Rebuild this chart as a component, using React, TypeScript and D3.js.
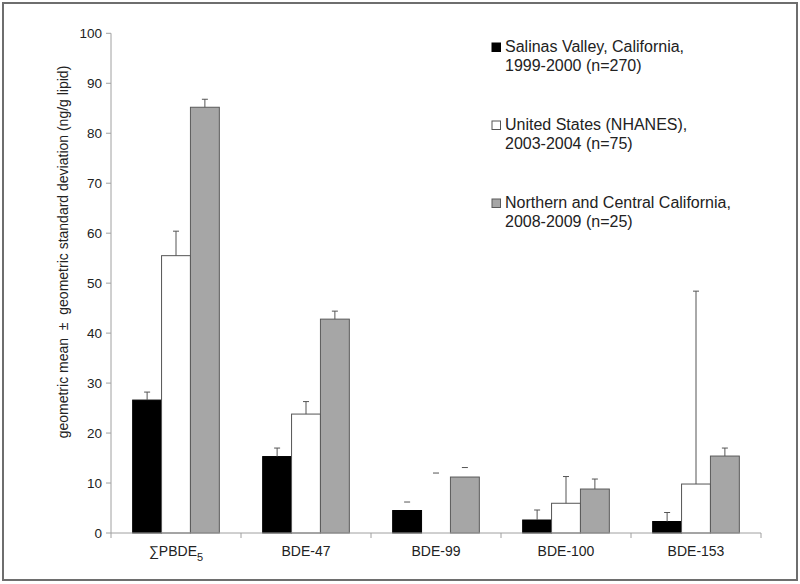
import React from "react";
import * as d3 from "d3";

const categories = ["SUM", "BDE-47", "BDE-99", "BDE-100", "BDE-153"];
const seriesNames = [
  ["Salinas Valley, California,", "1999-2000 (n=270)"],
  ["United States (NHANES),", "2003-2004 (n=75)"],
  ["Northern and Central California,", "2008-2009 (n=25)"],
];
const salinas = [26.6, 15.3, 4.5, 2.6, 2.3];
const nhanes: (number | null)[] = [55.5, 23.8, null, 5.95, 9.8];
const norcal = [85.2, 42.8, 11.2, 8.8, 15.4];
const salinasErr = [28.2, 17.0, 6.2, 4.6, 4.1];
const nhanesErr = [60.4, 26.3, 12.0, 11.3, 48.4];
const norcalErr = [86.8, 44.4, 13.1, 10.8, 17.0];
const capOnlyCategories = ["BDE-99"];
const yTicks = [0, 10, 20, 30, 40, 50, 60, 70, 80, 90, 100];

const fills = ["#000000", "#ffffff", "#a6a6a6"];
const strokes = ["#000000", "#555555", "#5a5a5a"];

export default function App() {
  const W = 800, H = 584;
  const left = 111, right = 761, top = 33.3, bottom = 533;
  const y = d3.scaleLinear().domain([0, 100]).range([bottom, top]);
  const x = d3.scaleBand<string>().domain(categories).range([left, right]).padding(0);
  const inner = d3
    .scaleBand<number>()
    .domain([0, 1, 2])
    .range([0, x.bandwidth()])
    .paddingInner(0)
    .paddingOuter(0.75);
  const values = [salinas, nhanes, norcal];
  const errs = [salinasErr, nhanesErr, norcalErr];
  const font = "'Liberation Sans', Arial, sans-serif";
  const axisColor = "#a0a0a0";
  const boundaries = [...categories.map((c) => x(c) as number), right];

  return (
    <svg width={W} height={H} style={{ position: "absolute", left: 0, top: 0, background: "#fff" }} fontFamily={font}>
      <rect x={0} y={0} width={W} height={H} fill="#fff" />
      <rect x={3} y={3} width={794} height={577} fill="none" stroke="#6e6e6e" strokeWidth={2} />
      {/* y axis */}
      <line x1={left} x2={left} y1={top} y2={bottom} stroke={axisColor} />
      {yTicks.map((t) => (
        <g key={t}>
          <line x1={left - 5} x2={left} y1={y(t)} y2={y(t)} stroke={axisColor} />
          <text x={102} y={y(t)} dy="0.35em" textAnchor="end" fontSize={13.5} fill="#222">
            {t}
          </text>
        </g>
      ))}
      {/* bars */}
      {values.map((vals, si) =>
        categories.map((c, ci) => {
          const v = vals[ci];
          if (v == null) return null;
          const bx = (x(c) as number) + (inner(si) as number);
          return (
            <rect
              key={`b${si}-${ci}`}
              x={bx}
              y={y(v)}
              width={inner.bandwidth()}
              height={y(0) - y(v)}
              fill={fills[si]}
              stroke={strokes[si]}
              strokeWidth={1}
            />
          );
        })
      )}
      {/* error bars */}
      {errs.map((es, si) =>
        categories.map((c, ci) => {
          const e = es[ci];
          const v = values[si][ci];
          const cx = (x(c) as number) + (inner(si) as number) + inner.bandwidth() / 2;
          const capOnly = capOnlyCategories.includes(c);
          return (
            <g key={`e${si}-${ci}`} stroke="#555" strokeWidth={1}>
              {!capOnly && v != null && <line x1={cx} x2={cx} y1={y(v)} y2={y(e)} />}
              <line x1={cx - 3} x2={cx + 3} y1={y(e)} y2={y(e)} />
            </g>
          );
        })
      )}
      {/* x axis */}
      <line x1={left} x2={right} y1={bottom} y2={bottom} stroke={axisColor} />
      {boundaries.map((b, i) => (
        <line key={`t${i}`} x1={b} x2={b} y1={bottom} y2={bottom + 5} stroke={axisColor} />
      ))}
      {categories.map((c) => {
        const cx = (x(c) as number) + x.bandwidth() / 2;
        return (
          <text key={c} x={cx} y={556} textAnchor="middle" fontSize={14} fill="#222">
            {c === "SUM" ? (
              <>
                {"\u2211PBDE"}
                <tspan fontSize={11} dy={5}>5</tspan>
              </>
            ) : (
              c
            )}
          </text>
        );
      })}
      {/* y title */}
      <text
        transform={`translate(68,252) rotate(-90)`}
        textAnchor="middle"
        fontSize={14}
        fill="#222"
        style={{ whiteSpace: "pre" }}
      >
        {"geometric mean  \u00b1  geometric standard deviation (ng/g lipid)"}
      </text>
      {/* legend */}
      {seriesNames.map((lines, i) => {
        const ly = 51.5 + i * 78;
        return (
          <g key={`l${i}`}>
            <rect x={492} y={ly - 8.5} width={8.5} height={8.5} fill={fills[i]} stroke={strokes[i]} strokeWidth={1} />
            <text x={505} y={ly} fontSize={16} fill="#222">
              {lines[0]}
            </text>
            <text x={505} y={ly + 19} fontSize={16} fill="#222">
              {lines[1]}
            </text>
          </g>
        );
      })}
    </svg>
  );
}
